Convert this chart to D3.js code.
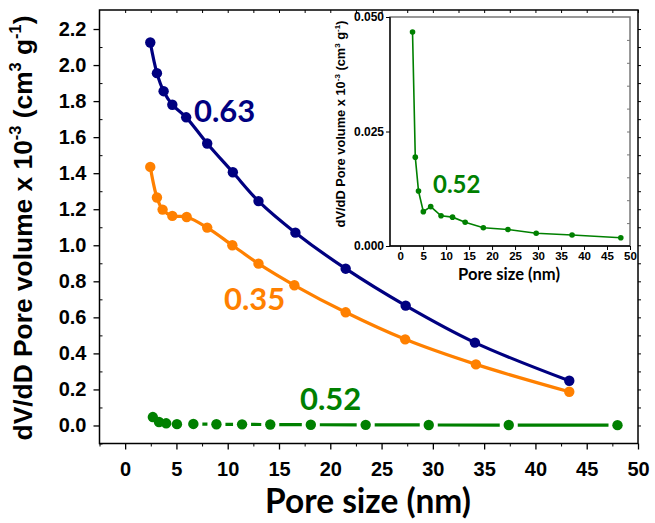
<!DOCTYPE html>
<html><head><meta charset="utf-8">
<script src="https://cdn.jsdelivr.net/npm/d3@7"></script>
<style>body{margin:0;background:#fff}svg{display:block}</style>
</head><body>
<svg id="c" width="655" height="523"></svg>
<script>
// ---- data ----
const xNavy = [2.45, 3.1, 3.75, 4.6, 5.95, 8.0, 10.5, 13.0, 16.6, 21.5, 27.35, 34.1, 43.3];
const yNavy = [2.125, 1.955, 1.855, 1.78, 1.71, 1.565, 1.405, 1.245, 1.07, 0.87, 0.665, 0.46, 0.248];
const xOrange = [2.45, 3.1, 3.65, 4.6, 6.0, 8.0, 10.45, 13.0, 16.5, 21.5, 27.3, 34.2, 43.3];
const yOrange = [1.435, 1.265, 1.198, 1.163, 1.157, 1.098, 1.0, 0.898, 0.778, 0.628, 0.478, 0.339, 0.187];
const xGreen = [2.7, 3.3, 4.0, 5.05, 6.65, 8.9, 11.4, 14.15, 18.1, 23.45, 29.6, 37.4, 48.0];
const yGreen = [0.0467, 0.0194, 0.0120, 0.0075, 0.0086, 0.0066, 0.0063, 0.0052, 0.0040, 0.0036, 0.0028, 0.0024, 0.0018];
const xTicks = [0, 5, 10, 15, 20, 25, 30, 35, 40, 45, 50];
const yTicks = [0.0, 0.2, 0.4, 0.6, 0.8, 1.0, 1.2, 1.4, 1.6, 1.8, 2.0, 2.2];
const insetYTicks = [0.000, 0.025, 0.050];
const labels = ["0.63", "0.35", "0.52"];

const NAVY = "#000080", ORANGE = "#ff8000", GREEN = "#008000";
const svg = d3.select("#c");

// ---- main scales ----
const x = d3.scaleLinear().domain([-2.5, 50]).range([99.5, 638]);
const y = d3.scaleLinear().domain([-0.1, 2.3]).range([443.5, 11]);

const g = svg.append("g");
g.append("rect").attr("x", x(-2.5)).attr("y", 10).attr("width", x(50) - x(-2.5)).attr("height", y(-0.1) - 10)
  .attr("fill", "none").attr("stroke", "#000").attr("stroke-width", 1.5);

// bottom axis
const xAxis = d3.axisBottom(x).tickValues(xTicks).tickSize(6).tickPadding(12).tickFormat(d3.format("d"));
const gx = g.append("g").attr("transform", `translate(0,${y(-0.1)})`).call(xAxis);
gx.select(".domain").remove();
gx.selectAll("line").attr("stroke-width", 1.3);
gx.selectAll("text").attr("font-family", "Liberation Sans, Arial").attr("font-weight", "bold").attr("font-size", 20).attr("fill", "#000");
const xMinor = d3.axisBottom(x).tickValues(d3.range(-2.5, 50, 5)).tickSize(3).tickFormat("");
const gxm = g.append("g").attr("transform", `translate(0,${y(-0.1)})`).call(xMinor);
gxm.select(".domain").remove();
const xTop = d3.axisBottom(x).tickValues(d3.range(0, 50.1, 2.5)).tickSize(3).tickFormat("");
const gxt = g.append("g").attr("transform", `translate(0,10)`).call(xTop);
gxt.select(".domain").remove();

// left axis
const yAxis = d3.axisLeft(y).tickValues(yTicks).tickSize(6).tickPadding(7).tickFormat(d3.format(".1f"));
const gy = g.append("g").attr("transform", `translate(${x(-2.5)},0)`).call(yAxis);
gy.select(".domain").remove();
gy.selectAll("line").attr("stroke-width", 1.3);
gy.selectAll("text").attr("font-family", "Liberation Sans, Arial").attr("font-weight", "bold").attr("font-size", 20).attr("fill", "#000");
const yMinor = d3.axisRight(y).tickValues(d3.range(-0.1, 2.25, 0.2)).tickSize(3).tickFormat("");
const gym = g.append("g").attr("transform", `translate(${x(-2.5)},0)`).call(yMinor);
gym.select(".domain").remove();
const yRight = d3.axisRight(y).tickValues(d3.range(0, 2.25, 0.1)).tickSize(3).tickFormat("");
const gyr = g.append("g").attr("transform", `translate(${x(50)},0)`).call(yRight);
gyr.select(".domain").remove();

// axis titles
const xt = svg.append("text").attr("x", 368).attr("y", 513).attr("text-anchor", "middle")
  .attr("font-family", "Lato, Open Sans").attr("font-weight", "bold").attr("font-size", 30).attr("fill", "#000")
  .text("Pore size (nm)");
(function fit(t, w){ const L = t.node().getComputedTextLength(); t.attr("font-size", 30 * w / L); })(xt, 206);

function yTitle(parent, cx, cy, size, len) {
  const t = parent.append("text").attr("transform", `translate(${cx},${cy}) rotate(-90)`).attr("text-anchor", "middle")
    .attr("font-family", "Liberation Sans, Arial").attr("font-weight", "bold").attr("font-size", size).attr("fill", "#000");
  const sup = 0.62, sh = 0.42;
  t.append("tspan").text("dV/dD Pore volume x 10");
  t.append("tspan").attr("dy", -size * sh).attr("font-size", size * sup).text("-3");
  t.append("tspan").attr("dy", size * sh).text(" (cm");
  t.append("tspan").attr("dy", -size * sh).attr("font-size", size * sup).text("3");
  t.append("tspan").attr("dy", size * sh).text(" g");
  t.append("tspan").attr("dy", -size * sh).attr("font-size", size * sup).text("-1");
  t.append("tspan").attr("dy", size * sh).text(")");
  const L = t.node().getComputedTextLength();
  const s = size * len / L;
  t.attr("font-size", s);
  t.selectAll("tspan").each(function(d, i){
    const el = d3.select(this);
    if (i % 2 === 1) { el.attr("font-size", s * sup).attr("dy", -s * sh); }
    else if (i > 0) { el.attr("dy", s * sh); }
  });
  return t;
}
yTitle(svg, 32, 228, 22, 425);

// ---- series ----
const lineGen = d3.line().x(d => x(d[0])).y(d => y(d[1])).curve(d3.curveCatmullRom.alpha(0.5));
function series(xs, ys, color, r) {
  const pts = xs.map((v, i) => [v, ys[i]]);
  g.append("path").attr("d", lineGen(pts)).attr("fill", "none").attr("stroke", color).attr("stroke-width", 3.2);
  g.selectAll(null).data(pts).enter().append("circle").attr("cx", d => x(d[0])).attr("cy", d => y(d[1])).attr("r", r).attr("fill", color);
}
series(xNavy, yNavy, NAVY, 5.2);
series(xOrange, yOrange, ORANGE, 5.2);

// green with gaps around symbols
const gpts = xGreen.map((v, i) => [x(v), y(yGreen[i])]);
const gap = 9;
for (let i = 0; i < gpts.length - 1; i++) {
  const [x1, y1] = gpts[i], [x2, y2] = gpts[i + 1];
  const dx = x2 - x1, dy = y2 - y1, L = Math.hypot(dx, dy);
  if (L <= 2 * gap) continue;
  const ux = dx / L, uy = dy / L;
  g.append("line").attr("x1", x1 + ux * gap).attr("y1", y1 + uy * gap).attr("x2", x2 - ux * gap).attr("y2", y2 - uy * gap)
    .attr("stroke", GREEN).attr("stroke-width", 3.2);
}
g.selectAll(null).data(gpts).enter().append("circle").attr("cx", d => d[0]).attr("cy", d => d[1]).attr("r", 5.2).attr("fill", GREEN);

// labels
const lab = (t, px, py, col, fs) => svg.append("text").attr("x", px).attr("y", py).attr("font-family", "Lato, Open Sans")
  .attr("font-weight", "bold").attr("font-size", fs).attr("fill", col).text(t);
lab(labels[0], 194, 122, NAVY, 31);
lab(labels[1], 224, 310, ORANGE, 31);
lab(labels[2], 300, 410, GREEN, 31);

// ---- inset ----
const ix = d3.scaleLinear().domain([-2.2, 50]).range([390, 630]);
const iy = d3.scaleLinear().domain([0, 0.05]).range([246, 17]);
const ig = svg.append("g");
ig.append("rect").attr("x", 390).attr("y", 17).attr("width", 240).attr("height", 229).attr("fill", "#fff")
  .attr("stroke", "#777").attr("stroke-width", 1.5);
ig.append("line").attr("x1", 390).attr("x2", 390).attr("y1", 17).attr("y2", 246).attr("stroke", "#000").attr("stroke-width", 1.3);
ig.append("line").attr("x1", 390).attr("x2", 630).attr("y1", 246).attr("y2", 246).attr("stroke", "#000").attr("stroke-width", 1.3);
const ixAxis = d3.axisBottom(ix).tickValues(xTicks).tickSize(4).tickPadding(2).tickFormat(d3.format("d"));
const igx = ig.append("g").attr("transform", "translate(0,246)").call(ixAxis);
igx.select(".domain").remove();
igx.selectAll("text").attr("font-family", "Liberation Sans, Arial").attr("font-weight", "bold").attr("font-size", 11.5).attr("fill", "#000");
const iyAxis = d3.axisLeft(iy).tickValues(insetYTicks).tickSize(4).tickPadding(2).tickFormat(d3.format(".3f"));
const igy = ig.append("g").attr("transform", "translate(390,0)").call(iyAxis);
igy.select(".domain").remove();
igy.selectAll("text").attr("font-family", "Liberation Sans, Arial").attr("font-weight", "bold").attr("font-size", 12).attr("fill", "#000");
const iyR = d3.axisLeft(iy).tickValues(d3.range(0.005, 0.05, 0.005)).tickSize(3).tickFormat("");
const igr = ig.append("g").attr("transform", "translate(630,0)").call(iyR);
igr.select(".domain").remove();
igr.selectAll("line").attr("stroke", "#777");

const ipts = xGreen.map((v, i) => [v, yGreen[i]]);
ig.append("path").attr("d", d3.line().x(d => ix(d[0])).y(d => iy(d[1]))(ipts)).attr("fill", "none").attr("stroke", GREEN).attr("stroke-width", 1.6);
ig.selectAll(null).data(ipts).enter().append("circle").attr("cx", d => ix(d[0])).attr("cy", d => iy(d[1])).attr("r", 2.8).attr("fill", GREEN);

const ixt = ig.append("text").attr("x", 509).attr("y", 280).attr("text-anchor", "middle").attr("font-family", "Lato, Open Sans")
  .attr("font-weight", "bold").attr("font-size", 15).attr("fill", "#000").text("Pore size (nm)");
(function fit(t, w){ const L = t.node().getComputedTextLength(); t.attr("font-size", 15 * w / L); })(ixt, 102);
yTitle(ig, 345, 124, 10.5, 207);
lab(labels[2], 433, 193, GREEN, 24);
</script>
</body></html>
